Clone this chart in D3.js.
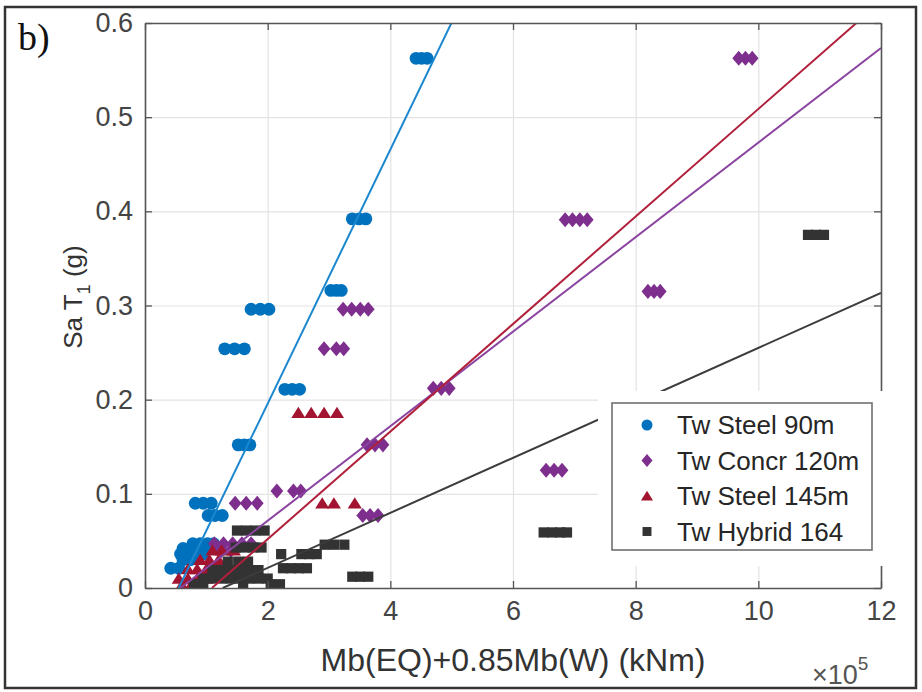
<!DOCTYPE html>
<html>
<head>
<meta charset="utf-8">
<script src="https://cdn.jsdelivr.net/npm/d3@7"></script>
<style>
	body { margin: 0; background: #fff; }
	text { font-family: "Liberation Sans", Arial, sans-serif; }
</style>
</head>
<body>
<div id="chart"></div>
<script>

// values, x in units of 1e5 kNm, y in g
let xTicks = [0, 2, 4, 6, 8, 10, 12]
let xTickLabels = ['0', '2', '4', '6', '8', '10', '12']
let yTicks = [0, 0.1, 0.2, 0.3, 0.4, 0.5, 0.6]
let yTickLabels = ['0', '0.1', '0.2', '0.3', '0.4', '0.5', '0.6']

let seriesNames = ['Tw Steel 90m', 'Tw Concr 120m', 'Tw Steel 145m', 'Tw Hybrid 164']

let steel90 = [
	[4.42,0.5625],[4.51,0.5625],[4.60,0.5625],
	[3.38,0.392],[3.49,0.392],[3.60,0.392],
	[3.03,0.316],[3.12,0.316],[3.20,0.316],
	[1.73,0.296],[1.88,0.296],[2.02,0.296],
	[1.30,0.254],[1.46,0.254],[1.62,0.254],
	[2.28,0.211],[2.40,0.211],[2.52,0.211],
	[1.52,0.152],[1.62,0.152],[1.71,0.152],
	[0.82,0.090],[0.95,0.090],[1.08,0.090],
	[1.03,0.077],[1.14,0.077],[1.26,0.077],
	[0.78,0.047],[0.90,0.047],[1.02,0.047],[1.12,0.047],
	[0.62,0.042],[0.74,0.042],[0.86,0.042],[0.98,0.042],
	[0.58,0.036],[0.70,0.036],[0.82,0.036],[0.94,0.036],
	[0.62,0.030],[0.74,0.030],
	[0.42,0.021],[0.55,0.021]
]

let concr120 = [
	[9.68,0.5625],[9.79,0.5625],[9.90,0.5625],
	[6.85,0.391],[6.97,0.391],[7.09,0.391],[7.21,0.391],
	[8.20,0.315],[8.30,0.315],[8.40,0.315],
	[3.23,0.296],[3.37,0.296],[3.51,0.296],[3.64,0.296],
	[2.92,0.254],[3.12,0.254],[3.24,0.254],
	[4.70,0.212],[4.83,0.212],[4.96,0.212],
	[3.62,0.152],[3.75,0.152],[3.88,0.152],
	[6.54,0.125],[6.67,0.125],[6.80,0.125],
	[2.15,0.103],[2.42,0.103],[2.54,0.103],
	[1.47,0.090],[1.65,0.090],[1.83,0.090],
	[3.55,0.077],[3.67,0.077],[3.80,0.077],
	[1.13,0.047],[1.28,0.047],[1.43,0.047],[1.58,0.047],[1.73,0.047],
	[1.25,0.040],[1.40,0.040]
]

let steel145 = [
	[2.50,0.186],[2.71,0.186],[2.92,0.186],[3.13,0.186],
	[2.89,0.090],[3.08,0.090],[3.42,0.090],
	[1.10,0.040],[1.25,0.040],[1.45,0.040],
	[0.90,0.030],[1.05,0.030],[1.20,0.030],
	[0.70,0.020],[0.85,0.020],[1.00,0.020],[1.15,0.020],
	[0.55,0.010],[0.70,0.010],[0.85,0.010],[1.00,0.010],
	[0.60,0.003],[0.75,0.003]
]

let hybrid164 = [
	[10.81,0.375],[10.94,0.375],[11.07,0.375],
	[9.05,0.202],[9.20,0.202],
	[6.50,0.059],[6.64,0.059],[6.77,0.059],[6.88,0.059],
	[1.50,0.061],[1.65,0.061],[1.80,0.061],[1.95,0.061],
	[2.93,0.046],[3.08,0.046],[3.25,0.046],
	[1.48,0.043],[1.62,0.043],[1.76,0.043],[1.90,0.043],
	[2.22,0.036],[2.55,0.036],[2.68,0.036],[2.80,0.036],
	[1.35,0.028],[1.52,0.028],[1.68,0.028],
	[2.25,0.021],[2.38,0.021],[2.51,0.021],[2.64,0.021],
	[1.10,0.019],[1.25,0.019],[1.40,0.019],[1.55,0.019],[1.70,0.019],[1.85,0.019],
	[3.38,0.012],[3.51,0.012],[3.64,0.012],
	[0.95,0.010],[1.10,0.010],[1.25,0.010],[1.40,0.010],[1.55,0.010],[1.70,0.010],[1.85,0.010],[2.00,0.010],
	[0.80,0.004],[0.95,0.004],[1.60,0.004],[2.05,0.004],[2.20,0.004]
]

// linear fits y = a*x + b
let fitSlope = [0.1349, 0.0502, 0.0571, 0.0292]
let fitIntercept = [-0.074, -0.029, -0.0623, -0.037]

let pointColors = ['#0072BD', '#7E2F8E', '#A2142F', '#333333']
let lineColors = ['#1B87CF', '#8A44A0', '#B0203A', '#3c3c3c']

let W = 922, H = 692
let margin = {left:145, right:41, top:23, bottom:104}
let width = W - margin.left - margin.right
let height = H - margin.top - margin.bottom

let x = d3.scaleLinear().domain([0, 12]).range([margin.left, margin.left + width])
let y = d3.scaleLinear().domain([0, 0.6]).range([margin.top + height, margin.top])

let svg = d3.select('#chart').append('svg').attr('width', W).attr('height', H)

svg.append('rect').attr('x', 5).attr('y', 7).attr('width', 911).attr('height', 681)
	.attr('fill', '#fff').attr('stroke', '#333').attr('stroke-width', 2.5)

svg.append('text').attr('x', 18).attr('y', 50).text('b)')
	.style('font-family', '"Liberation Serif", serif').style('font-size', '38px').attr('fill', '#111')

svg.append('defs').append('clipPath').attr('id', 'clip')
	.append('rect').attr('x', margin.left).attr('y', margin.top).attr('width', width).attr('height', height)

// grid
svg.append('g').attr('transform', `translate(0,${margin.top + height})`)
	.call(d3.axisBottom(x).tickValues(xTicks).tickSize(-height).tickFormat(''))
	.call(g => g.select('.domain').remove())
	.call(g => g.selectAll('line').attr('stroke', '#e3e3e3').attr('stroke-width', 1.2))
svg.append('g').attr('transform', `translate(${margin.left},0)`)
	.call(d3.axisLeft(y).tickValues(yTicks).tickSize(-width).tickFormat(''))
	.call(g => g.select('.domain').remove())
	.call(g => g.selectAll('line').attr('stroke', '#e3e3e3').attr('stroke-width', 1.2))

let diamond = {
	draw(ctx, size) {
		let r = Math.sqrt(size) / 2
		ctx.moveTo(0, -r * 1.3); ctx.lineTo(r * 1.1, 0); ctx.lineTo(0, r * 1.3); ctx.lineTo(-r * 1.1, 0); ctx.closePath()
	}
}
let triangle = {
	draw(ctx, size) {
		let r = Math.sqrt(size) / 2
		ctx.moveTo(0, -r); ctx.lineTo(r * 1.15, r * 0.85); ctx.lineTo(-r * 1.15, r * 0.85); ctx.closePath()
	}
}
let symbolTypes = [d3.symbolCircle, diamond, triangle, d3.symbolSquare]
let symbolSizes = [130, 135, 150, 105]
let legendSizes = [95, 100, 110, 80]
let allSeries = [steel90, concr120, steel145, hybrid164]

let plot = svg.append('g').attr('clip-path', 'url(#clip)')

allSeries.forEach((pts, i) => {
	plot.append('g').selectAll('path')
		.data(pts)
		.enter().append('path')
		.attr('transform', d => `translate(${x(d[0])},${y(d[1])})`)
		.attr('d', d3.symbol().type(symbolTypes[i]).size(symbolSizes[i]))
		.attr('fill', pointColors[i])
})

let line = d3.line().x(d => x(d[0])).y(d => y(d[1]))
fitSlope.forEach((a, i) => {
	let b = fitIntercept[i]
	let x0 = -b / a
	plot.append('path')
		.attr('d', line([[x0, 0], [12, a * 12 + b]]))
		.attr('fill', 'none').attr('stroke', lineColors[i]).attr('stroke-width', 2)
})

// axes box
let axisColor = '#555'
let xAx = svg.append('g').attr('transform', `translate(0,${margin.top + height})`)
	.call(d3.axisBottom(x).tickValues(xTicks).tickFormat((d, i) => xTickLabels[i]).tickSizeInner(-7).tickSizeOuter(0).tickPadding(13))
let yAx = svg.append('g').attr('transform', `translate(${margin.left},0)`)
	.call(d3.axisLeft(y).tickValues(yTicks).tickFormat((d, i) => yTickLabels[i]).tickSizeInner(-7).tickSizeOuter(0).tickPadding(12))
let xTop = svg.append('g').attr('transform', `translate(0,${margin.top})`)
	.call(d3.axisTop(x).tickValues(xTicks).tickFormat('').tickSizeInner(-7).tickSizeOuter(0))
let yRight = svg.append('g').attr('transform', `translate(${margin.left + width},0)`)
	.call(d3.axisRight(y).tickValues(yTicks).tickFormat('').tickSizeInner(-7).tickSizeOuter(0))
;[xAx, yAx, xTop, yRight].forEach(g => {
	g.select('.domain').attr('stroke', axisColor).attr('stroke-width', 1.6)
	g.selectAll('line').attr('stroke', axisColor).attr('stroke-width', 1.3)
	g.selectAll('text').attr('fill', '#444').style('font-size', '27px').style('font-family', '"Liberation Sans", Arial, sans-serif')
})

// white area behind legend
svg.append('rect').attr('x', 598).attr('y', 391).attr('width', 287).attr('height', 175).attr('fill', '#fff')

// legend
let legend = svg.append('g')
legend.append('rect').attr('x', 612).attr('y', 403).attr('width', 260).attr('height', 147)
	.attr('fill', '#fff').attr('stroke', '#707070').attr('stroke-width', 1.6)
seriesNames.forEach((name, i) => {
	let ly = 425 + i * 35.5
	legend.append('path').attr('transform', `translate(647,${ly})`)
		.attr('d', d3.symbol().type(symbolTypes[i]).size(legendSizes[i]))
		.attr('fill', pointColors[i])
	legend.append('text').attr('x', 677).attr('y', ly).attr('dy', '0.36em')
		.style('font-size', '26px').attr('fill', '#262626').text(name)
})

// axis labels
svg.append('text').attr('x', margin.left + width / 2).attr('y', 671).attr('text-anchor', 'middle')
	.style('font-size', '32px').attr('fill', '#333').text('Mb(EQ)+0.85Mb(W) (kNm)')

let ylab = svg.append('text').attr('transform', 'translate(82,297) rotate(-90)').attr('text-anchor', 'middle')
	.style('font-size', '26px').attr('fill', '#333')
ylab.append('tspan').text('Sa T')
ylab.append('tspan').attr('dy', 8).style('font-size', '18px').text('1')
ylab.append('tspan').attr('dy', -8).text(' (g)')

let expo = svg.append('text').attr('x', 812).attr('y', 684).style('font-size', '27px').attr('fill', '#555')
expo.append('tspan').text('\u00d710')
expo.append('tspan').attr('dy', -14).style('font-size', '19px').text('5')

</script>
</body>
</html>
